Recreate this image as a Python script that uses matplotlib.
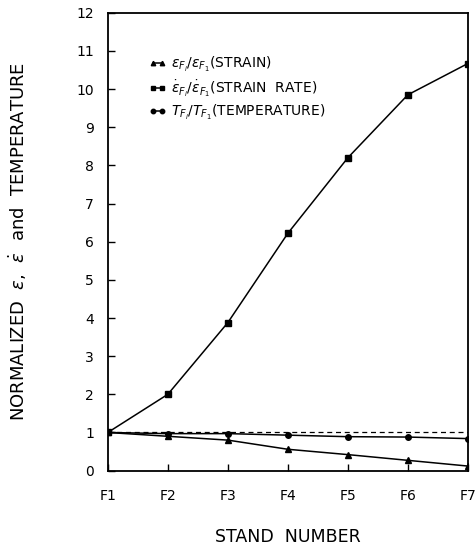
import numpy as np
import matplotlib
matplotlib.use('Agg')
import matplotlib.pyplot as plt

stands = ['F1', 'F2', 'F3', 'F4', 'F5', 'F6', 'F7']
strain = [1.0, 0.9, 0.8, 0.56, 0.42, 0.27, 0.12]
strain_rate = [1.0, 2.0, 3.88, 6.22, 8.2, 9.85, 10.67]
temperature = [1.0, 0.97, 0.97, 0.93, 0.89, 0.88, 0.84]
reference = [1.0] * 7
y_ticks = list(range(0, 13))

x = np.arange(len(stands))

fig = plt.figure(figsize=(4.75, 5.55), dpi=100)
ax = fig.add_axes([0.227, 0.152, 0.758, 0.825])

ax.plot(x, reference, color='black', lw=0.9, ls=(0, (4, 3)))
ax.plot(x, strain, color='black', lw=1.1, marker='^', ms=4,
        label=r'$\varepsilon_{F_i}/\varepsilon_{F_1}$(STRAIN)')
ax.plot(x, strain_rate, color='black', lw=1.1, marker='s', ms=4,
        label=r'$\dot{\varepsilon}_{F_i}/\dot{\varepsilon}_{F_1}$(STRAIN  RATE)')
ax.plot(x, temperature, color='black', lw=1.1, marker='o', ms=4,
        label=r'$T_{F_i}/T_{F_1}$(TEMPERATURE)')

ax.set_xlim(0, 6)
ax.set_ylim(0, 12)
ax.set_xticks(x)
ax.set_xticklabels(stands)
ax.set_yticks(y_ticks)
ax.tick_params(direction='in', length=5, width=1, labelsize=10, pad=10)
ax.tick_params(axis='x', pad=13)
for s in ax.spines.values():
    s.set_linewidth(1.3)

ax.set_xlabel('STAND  NUMBER', fontsize=12.5, labelpad=18)
ax.set_ylabel(r'NORMALIZED  $\varepsilon$,  $\dot{\varepsilon}$  and  TEMPERATURE',
              fontsize=13, labelpad=34)

ax.legend(loc='upper left', bbox_to_anchor=(0.08, 0.935), frameon=False,
          numpoints=2, handlelength=1.2, handletextpad=0.4, labelspacing=0.3,
          fontsize=10, markerscale=0.8)

fig.savefig('out.png', dpi=100)
